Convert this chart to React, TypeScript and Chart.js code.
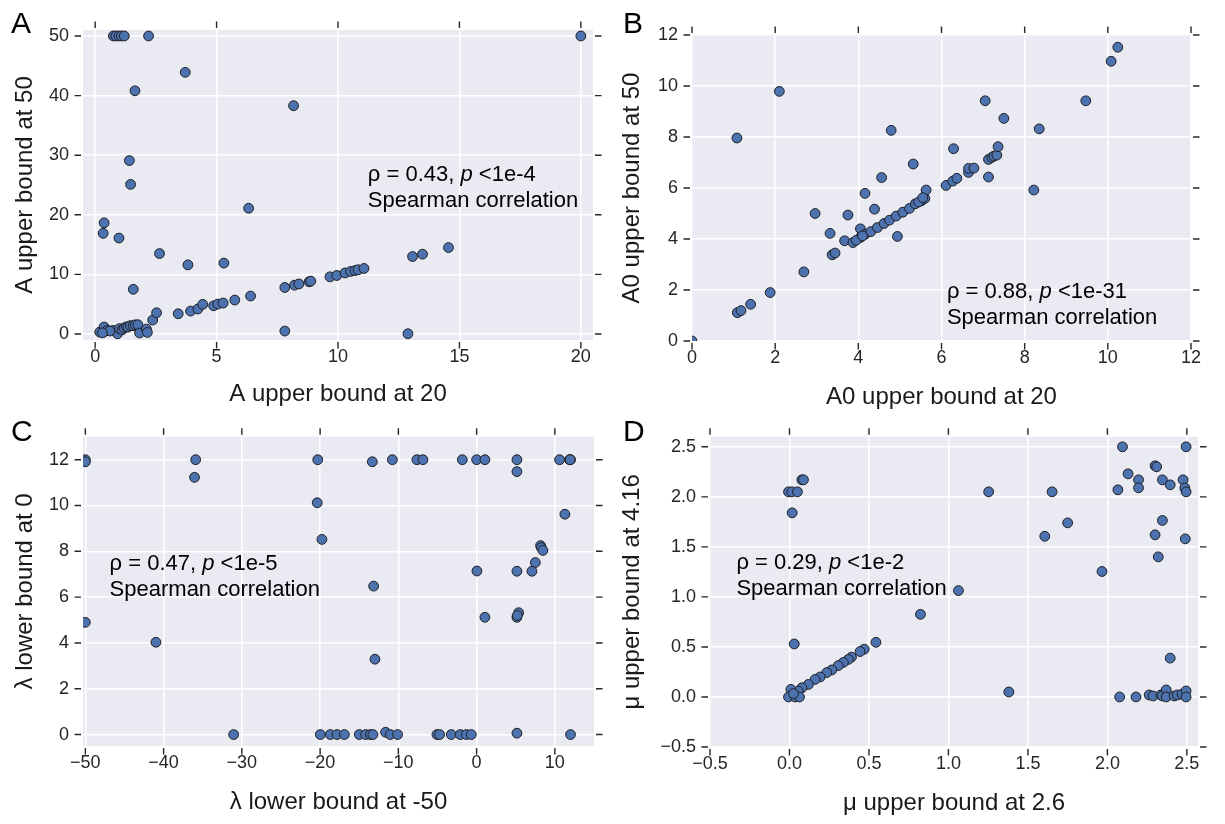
import React, { useEffect, useRef } from "react";
import { Chart, registerables } from "chart.js";

Chart.register(...registerables);

const FONT = '"Liberation Sans", Arial, Helvetica, sans-serif';

// ---------- Panel A : A upper bound at 20 vs at 50 ----------
const aUpper20 = [
  0.75, 0.85, 0.98, 1.08, 1.2, 2.2, 20,
  3.71, 1.64, 8.17, 1.41, 1.46, 6.32, 0.37, 0.33, 0.98, 2.65, 3.82, 5.3, 1.57, 13.07, 13.48, 14.55, 7.81, 12.88,
  2.37, 2.53, 3.42, 3.93, 4.23, 4.43, 4.88, 5.05, 5.27, 5.75, 6.4, 7.81, 8.21, 8.39, 8.81, 8.88, 9.67, 9.95, 10.29, 10.52, 10.7, 10.83, 11.07,
  0.19, 0.33, 0.37, 0.5, 0.74, 0.92, 1.0, 1.11, 1.19, 1.28, 1.35, 1.45, 1.56, 1.65, 1.76, 1.83, 2.11, 2.15, 0.6, 0.3,
];
const aUpper50 = [
  50, 50, 50, 50, 50, 50, 50,
  43.9, 40.8, 38.3, 29.1, 25.1, 21.1, 18.65, 16.9, 16.1, 13.5, 11.6, 11.9, 7.5, 13.0, 13.4, 14.5, 0.5, 0.05,
  2.35, 3.57, 3.4, 3.85, 4.2, 4.97, 4.74, 5.03, 5.2, 5.7, 6.37, 7.81, 8.2, 8.4, 8.77, 8.88, 9.6, 9.82, 10.25, 10.5, 10.65, 10.78, 11.0,
  0.33, 0.27, 1.17, 0.6, 0.6, 0.05, 0.9, 0.72, 1.0, 1.2, 1.17, 1.4, 1.39, 1.55, 1.56, 0.17, 0.84, 0.27, 0.5, 0.2,
];
const aTicksX = [0, 5, 10, 15, 20];
const aTicksY = [0, 10, 20, 30, 40, 50];

// ---------- Panel B : A0 upper bound at 20 vs at 50 ----------
const bUpper20 = [
  0, 1.09, 1.18, 1.41, 1.88, 2.69, 1.08, 2.1, 3.37, 3.44, 3.32, 2.96, 3.75, 3.67, 3.87, 4.05, 4.05,
  4.16, 4.3, 4.46, 4.62, 4.75, 4.91, 5.07, 5.23, 5.37, 5.52, 5.6, 5.63, 4.16, 4.39, 4.56, 4.79, 5.32, 4.94,
  6.11, 6.27, 6.37, 6.65, 6.65, 6.78, 7.13, 7.13, 7.21, 7.26, 7.33, 7.36, 6.29, 7.05, 7.5, 8.35, 8.22,
  9.47, 10.08, 10.24, 3.95, 4.1, 5.45, 5.55,
];
const bUpper50 = [
  0, 1.11, 1.19, 1.44, 1.9, 2.71, 7.96, 9.79, 3.38, 3.45, 4.22, 5.0, 4.94, 3.93, 3.86, 4.06, 4.4,
  4.18, 4.29, 4.45, 4.61, 4.74, 4.9, 5.05, 5.2, 5.38, 5.5, 5.59, 5.92, 5.79, 5.17, 6.41, 8.26, 6.94, 4.1,
  6.1, 6.27, 6.38, 6.61, 6.77, 6.78, 6.43, 7.12, 7.2, 7.25, 7.29, 7.62, 7.54, 9.42, 8.73, 8.32, 5.92,
  9.42, 10.97, 11.52, 3.95, 4.12, 5.45, 5.62,
];
const bTicksX = [0, 2, 4, 6, 8, 10, 12];
const bTicksY = [0, 2, 4, 6, 8, 10, 12];

// ---------- Panel C : lambda lower bound at -50 vs at 0 ----------
const cLower50 = [
  -50, -50, -35.9, -36.05, -20.3, -13.33, -10.77, -7.63, -6.86, -1.83, 0, 1.06, 5.15, 5.15, 10.6, 11.88, 12, 11.95,
  -20.37, -19.77, -50, -40.98, 11.28, 8.17, 8.26, 8.47, 7.5, 7.07, 5.15, 0.04, -13.16, 1.06, 5.15, 5.37, 5.2, -12.99,
  -31.05, -19.97, -18.7, -17.84, -16.9, -15.0, -14.18, -13.58, -13.25, -11.63, -11.03, -10.1, -5.07, -4.73, -3.24, -2.09, -1.32, -0.68, 5.15, 12,
];
const cLower0 = [
  12, 11.91, 12, 11.23, 12, 11.91, 12, 12, 12, 12, 12, 12, 12, 11.48, 12, 12, 12, 12,
  10.12, 8.52, 4.9, 4.03, 9.62, 8.25, 8.16, 8.04, 7.51, 7.13, 7.13, 7.14, 6.48, 5.12, 5.12, 5.32, 5.2, 3.29,
  0, 0, 0, 0, 0, 0, 0, 0, 0, 0.1, 0, 0, 0, 0, 0, 0, 0, 0, 0.06, 0,
];
const cTicksX = [-50, -40, -30, -20, -10, 0, 10];
const cTicksY = [0, 2, 4, 6, 8, 10, 12];

// ---------- Panel D : mu upper bound at 2.6 vs at 4.16 ----------
const dUpper26 = [
  -0.006, 0.015, 0.05, 0.078, 0.088, 0.017, 0.03,
  0.824, 0.544, 0.47, 0.444, 0.39, 0.37, 0.339, 0.307, 0.266, 0.235, 0.193, 0.161, 0.119, 0.078, 0.056, 0.009, -0.006, 0.036, 0.063, 0.025, 1.063,
  2.095, 2.495, 2.3, 2.31, 2.13, 2.196, 2.346, 2.476, 2.395, 2.196, 2.066, 2.487, 2.495, 1.253, 1.652, 1.75, 1.606, 2.346, 2.3, 2.49, 2.32, 1.966,
  1.38, 2.395, 2.077, 2.18, 2.263, 2.288, 2.336, 2.346, 2.37, 2.37, 2.42, 2.44, 2.47, 2.495, 2.495,
];
const dUpper416 = [
  2.05, 2.05, 2.05, 2.17, 2.17, 1.84, 0.53,
  0.826, 0.546, 0.477, 0.454, 0.398, 0.375, 0.345, 0.313, 0.27, 0.244, 0.2, 0.175, 0.125, 0.092, 0.059, 0.076, 0, 0, 0, 0.033, 1.063,
  2.5, 2.5, 2.31, 2.3, 2.23, 2.17, 2.17, 2.17, 2.12, 2.09, 2.07, 2.09, 2.05, 2.05, 2.05, 1.74, 1.606, 1.764, 1.62, 1.58, 1.4, 1.254,
  0.05, 0.388, 0, 0, 0.02, 0.01, 0.02, 0.01, 0.07, 0, 0.01, 0.02, 0.027, 0.06, 0,
];
const dTicksX = [-0.5, 0, 0.5, 1, 1.5, 2, 2.5];
const dTicksY = [-0.5, 0, 0.5, 1, 1.5, 2, 2.5];

type Seg = [string, boolean];
type Panel = {
  letter: string;
  xs: number[];
  ys: number[];
  xTicks: number[];
  yTicks: number[];
  xMin: number; xMax: number; yMin: number; yMax: number;
  decimals: number;
  xTitle: string; yTitle: string;
  note1: Seg[]; note2: string;
  noteX: number; noteY: number;
  // layout (page pixels)
  cl: number; ct: number; cw: number; ch: number;
  pl: number; pr: number; pt: number; pb: number;
  xTitlePad: number; yTitlePad: number;
  letterY: number;
};

const panels: Panel[] = [
  {
    letter: "A", xs: aUpper20, ys: aUpper50, xTicks: aTicksX, yTicks: aTicksY,
    xMin: -0.5, xMax: 20.5, yMin: -1, yMax: 51, decimals: 0,
    xTitle: "A upper bound at 20", yTitle: "A upper bound at 50",
    note1: [["ρ = 0.43, ", false], ["p", true], [" <1e-4", false]], note2: "Spearman correlation",
    noteX: 11.23, noteY: 25.7,
    cl: 0, ct: 0, cw: 612, ch: 412, pl: 83, pr: 593, pt: 30, pb: 340,
    xTitlePad: 3.6, yTitlePad: 10.6, letterY: 33,
  },
  {
    letter: "B", xs: bUpper20, ys: bUpper50, xTicks: bTicksX, yTicks: bTicksY,
    xMin: 0, xMax: 12, yMin: 0, yMax: 12, decimals: 0,
    xTitle: "A0 upper bound at 20", yTitle: "A0 upper bound at 50",
    note1: [["ρ = 0.88, ", false], ["p", true], [" <1e-31", false]], note2: "Spearman correlation",
    noteX: 6.13, noteY: 1.69,
    cl: 612, ct: 0, cw: 613, ch: 412, pl: 692, pr: 1191, pt: 35, pb: 341,
    xTitlePad: 0.6, yTitlePad: 5.6, letterY: 33,
  },
  {
    letter: "C", xs: cLower50, ys: cLower0, xTicks: cTicksX, yTicks: cTicksY,
    xMin: -50.3, xMax: 15, yMin: -0.5, yMax: 13, decimals: 0,
    xTitle: "λ lower bound at -50", yTitle: "λ lower bound at 0",
    note1: [["ρ = 0.47, ", false], ["p", true], [" <1e-5", false]], note2: "Spearman correlation",
    noteX: -46.9, noteY: 7.18,
    cl: 0, ct: 412, cw: 612, ch: 412, pl: 83, pr: 594, pt: 433, pb: 746,
    xTitlePad: 7.6, yTitlePad: 10.6, letterY: 29,
  },
  {
    letter: "D", xs: dUpper26, ys: dUpper416, xTicks: dTicksX, yTicks: dTicksY,
    xMin: -0.5, xMax: 2.57, yMin: -0.5, yMax: 2.6, decimals: 1,
    xTitle: "μ upper bound at 2.6", yTitle: "μ upper bound at 4.16",
    note1: [["ρ = 0.29, ", false], ["p", true], [" <1e-2", false]], note2: "Spearman correlation",
    noteX: -0.334, noteY: 1.276,
    cl: 612, ct: 412, cw: 613, ch: 412, pl: 710, pr: 1198, pt: 433, pb: 747,
    xTitlePad: 6.6, yTitlePad: 5.6, letterY: 29,
  },
];

const fmt = (v: number, d: number) => {
  const s = Math.abs(v).toFixed(d);
  return v < 0 ? "\u2212" + s : s;
};

const TICK_GAP = 2;
const TICK_LEN = 6.5;

function makeDecor(p: Panel) {
  return {
    id: "decor" + p.letter,
    beforeDraw(chart: any) {
      const { ctx, chartArea: a } = chart;
      ctx.save();
      ctx.fillStyle = "#EAEAF2";
      ctx.fillRect(a.left, a.top, a.right - a.left, a.bottom - a.top);
      ctx.restore();
    },
    afterDraw(chart: any) {
      const { ctx, chartArea: a, scales } = chart;
      ctx.save();
      ctx.strokeStyle = "#262626";
      ctx.lineWidth = 1.4;
      ctx.beginPath();
      for (const t of scales.x.ticks) {
        const px = scales.x.getPixelForValue(t.value);
        ctx.moveTo(px, a.bottom + TICK_GAP);
        ctx.lineTo(px, a.bottom + TICK_GAP + TICK_LEN);
        ctx.moveTo(px, a.top - TICK_GAP);
        ctx.lineTo(px, a.top - TICK_GAP - TICK_LEN);
      }
      for (const t of scales.y.ticks) {
        const py = scales.y.getPixelForValue(t.value);
        ctx.moveTo(a.left - TICK_GAP, py);
        ctx.lineTo(a.left - TICK_GAP - TICK_LEN, py);
        ctx.moveTo(a.right + TICK_GAP, py);
        ctx.lineTo(a.right + TICK_GAP + TICK_LEN, py);
      }
      ctx.stroke();

      // panel letter
      ctx.fillStyle = "#000";
      ctx.textAlign = "left";
      ctx.textBaseline = "alphabetic";
      ctx.font = `30px ${FONT}`;
      ctx.fillText(p.letter, 11, p.letterY);

      // annotation
      const x0 = scales.x.getPixelForValue(p.noteX);
      const y0 = scales.y.getPixelForValue(p.noteY);
      let x = x0;
      for (const [txt, it] of p.note1) {
        ctx.font = `${it ? "italic " : ""}22px ${FONT}`;
        ctx.fillText(txt, x, y0);
        x += ctx.measureText(txt).width;
      }
      ctx.font = `22px ${FONT}`;
      ctx.fillText(p.note2, x0, y0 + 26);
      ctx.restore();
    },
  };
}

function PanelChart({ p }: { p: Panel }) {
  const ref = useRef<HTMLCanvasElement | null>(null);
  useEffect(() => {
    if (!ref.current) return;
    const pts = p.xs.map((x, i) => ({ x, y: p.ys[i] }));
    const tickFont = { family: FONT, size: 18 };
    const titleFont = { family: FONT, size: 24 };
    const chart = new Chart(ref.current, {
      type: "scatter",
      data: {
        datasets: [
          {
            data: pts,
            pointRadius: 4.9,
            pointHoverRadius: 4.9,
            pointBorderWidth: 1,
            pointBackgroundColor: "#4C72B0",
            pointBorderColor: "#1f1f1f",
            clip: 0,
          } as any,
        ],
      },
      options: {
        responsive: false,
        animation: false,
        devicePixelRatio: 1,
        events: [],
        layout: {
          padding: { left: 0, bottom: 0, top: p.pt - p.ct, right: p.cl + p.cw - p.pr },
        },
        plugins: { legend: { display: false }, tooltip: { enabled: false } },
        scales: {
          x: {
            type: "linear",
            position: "bottom",
            min: p.xMin,
            max: p.xMax,
            afterBuildTicks: (s: any) => { s.ticks = p.xTicks.map((v) => ({ value: v })); },
            afterFit: (s: any) => { s.height = p.ct + p.ch - p.pb; },
            border: { display: false },
            grid: { color: "#ffffff", lineWidth: 1.5, drawTicks: false },
            ticks: {
              color: "#262626",
              font: tickFont,
              padding: 6,
              autoSkip: false,
              maxRotation: 0,
              callback: (v: any) => fmt(Number(v), p.decimals),
            },
            title: {
              display: true,
              text: p.xTitle,
              color: "#1a1a1a",
              font: titleFont,
              padding: { top: 0, bottom: p.xTitlePad },
            },
          },
          y: {
            type: "linear",
            position: "left",
            min: p.yMin,
            max: p.yMax,
            afterBuildTicks: (s: any) => { s.ticks = p.yTicks.map((v) => ({ value: v })); },
            afterFit: (s: any) => { s.width = p.pl - p.cl; },
            border: { display: false },
            grid: { color: "#ffffff", lineWidth: 1.5, drawTicks: false },
            ticks: {
              color: "#262626",
              font: tickFont,
              padding: 14,
              autoSkip: false,
              callback: (v: any) => fmt(Number(v), p.decimals),
            },
            title: {
              display: true,
              text: p.yTitle,
              color: "#1a1a1a",
              font: titleFont,
              padding: { top: p.yTitlePad, bottom: 0 },
            },
          },
        },
      },
      plugins: [makeDecor(p)],
    } as any);
    return () => chart.destroy();
  }, [p]);
  return (
    <canvas
      ref={ref}
      width={p.cw}
      height={p.ch}
      style={{ position: "absolute", left: p.cl, top: p.ct, width: p.cw, height: p.ch }}
    />
  );
}

export default function App() {
  return (
    <div style={{ position: "absolute", left: 0, top: 0, width: 1225, height: 824, background: "#fff" }}>
      {panels.map((p) => (
        <PanelChart key={p.letter} p={p} />
      ))}
    </div>
  );
}
